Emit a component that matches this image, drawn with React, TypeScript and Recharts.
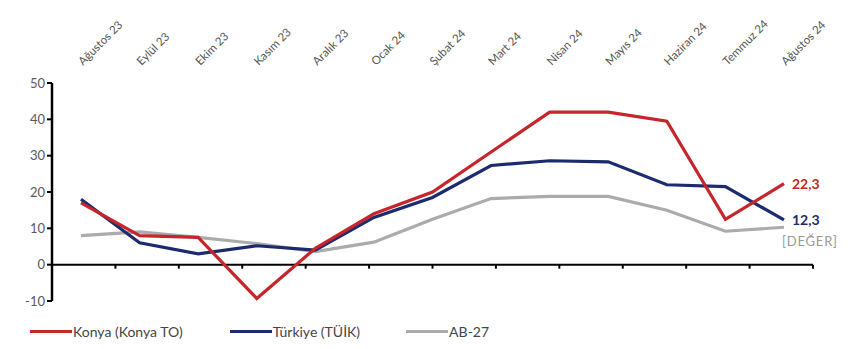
import React from 'react';
import { LineChart, Line, XAxis, YAxis, ReferenceLine, Legend, LabelList } from 'recharts';

// aylar (üst eksen)
const months = [
  'Ağustos 23', 'Eylül 23', 'Ekim 23', 'Kasım 23', 'Aralık 23', 'Ocak 24', 'Şubat 24',
  'Mart 24', 'Nisan 24', 'Mayıs 24', 'Haziran 24', 'Temmuz 24', 'Ağustos 24',
];
const konya = [17, 8, 7.5, -9.3, 4.5, 14, 20, 31, 42, 42, 39.5, 12.5, 22.3];
const turkiye = [18, 6, 3, 5.2, 4, 13, 18.5, 27.3, 28.6, 28.3, 22, 21.5, 12.3];
const ab27 = [8, 9, 7.5, 5.8, 3.6, 6.2, 12.5, 18.2, 18.8, 18.8, 15, 9.2, 10.3];
const seriesNames = ['Konya (Konya TO)', 'Türkiye (TÜİK)', 'AB-27'];
const endLabels = ['22,3', '12,3', '[DEĞER]'];
const yTicks = [-10, 0, 10, 20, 30, 40, 50];
const boundaries = [1, 2, 3, 4, 5, 6, 7, 8, 9, 10, 11, 12];

const RED = '#C5252B';
const NAVY = '#1C2B6E';
const GRAY = '#ABABAB';
const colors = [RED, NAVY, GRAY];

const data = months.map((m, i) => ({
  month: m,
  konya: konya[i],
  turkiye: turkiye[i],
  ab27: ab27[i],
}));

const FONT = 'Lato, "Open Sans", sans-serif';

const TopTick = (props: any) => {
  const { x, y, payload } = props;
  const ty = y - 9;
  return (
    <text
      x={x + 2}
      y={ty}
      transform={`rotate(-45, ${x + 2}, ${ty})`}
      textAnchor="start"
      fontSize={11.5}
      fontFamily={FONT}
      fill="#555"
    >
      {payload.value}
    </text>
  );
};

// sadece son noktaya etiket
const endLabel = (idx: number) => (props: any) => {
  const { x, y, index } = props;
  if (index !== months.length - 1) return null;
  if (idx === 2) {
    return (
      <text x={x - 2} y={y + 19} fontSize={13} fontFamily={FONT} fill="#999" letterSpacing={0.8}>
        {endLabels[idx]}
      </text>
    );
  }
  return (
    <text x={x + 8} y={y + 5} fontSize={14} fontWeight="bold" fontFamily={FONT} fill={colors[idx]}>
      {endLabels[idx]}
    </text>
  );
};

const LegendContent = () => (
  <div style={{ display: 'flex', fontFamily: FONT, fontSize: 14, color: '#444' }}>
    {seriesNames.map((n, i) => (
      <div key={n} style={{ display: 'flex', alignItems: 'center', marginRight: i === 0 ? 47 : 46 }}>
        <div style={{ width: 42, height: 3, background: colors[i], marginRight: 1 }} />
        <span>{n}</span>
      </div>
    ))}
  </div>
);

export default function App() {
  return (
    <LineChart
      width={850}
      height={341}
      data={data}
      margin={{ top: 0, right: 45, left: 0, bottom: 31 }}
    >
      <XAxis
        dataKey="month"
        orientation="top"
        height={75}
        axisLine={false}
        tickLine={false}
        interval={0}
        padding={{ left: 29, right: 29 }}
        tick={<TopTick />}
      />
      <XAxis xAxisId="n" type="number" domain={[0, 13]} hide />
      <YAxis
        domain={[-10, 50]}
        ticks={yTicks}
        width={44}
        axisLine={{ stroke: '#000', strokeWidth: 2.5 }}
        tickLine={{ stroke: '#000', strokeWidth: 2 }}
        tickSize={5}
        tick={{ fontSize: 13, fill: '#595959', fontFamily: FONT }}
      />
      <ReferenceLine y={0} stroke="#000" strokeWidth={2} />
      {boundaries.map((b) => (
        <ReferenceLine
          key={b}
          xAxisId="n"
          segment={[{ x: b, y: 0 }, { x: b, y: -1.1 }]}
          stroke="#000"
          strokeWidth={2}
        />
      ))}
      <Line dataKey="ab27" name={seriesNames[2]} stroke={GRAY} strokeWidth={3.2} dot={false} isAnimationActive={false}>
        <LabelList dataKey="ab27" content={endLabel(2)} />
      </Line>
      <Line dataKey="turkiye" name={seriesNames[1]} stroke={NAVY} strokeWidth={3.2} dot={false} isAnimationActive={false}>
        <LabelList dataKey="turkiye" content={endLabel(1)} />
      </Line>
      <Line dataKey="konya" name={seriesNames[0]} stroke={RED} strokeWidth={3.2} dot={false} isAnimationActive={false}>
        <LabelList dataKey="konya" content={endLabel(0)} />
      </Line>
      <Legend
        verticalAlign="bottom"
        content={<LegendContent />}
        wrapperStyle={{ position: 'absolute', left: 22, top: 315, width: 'auto' }}
      />
    </LineChart>
  );
}
